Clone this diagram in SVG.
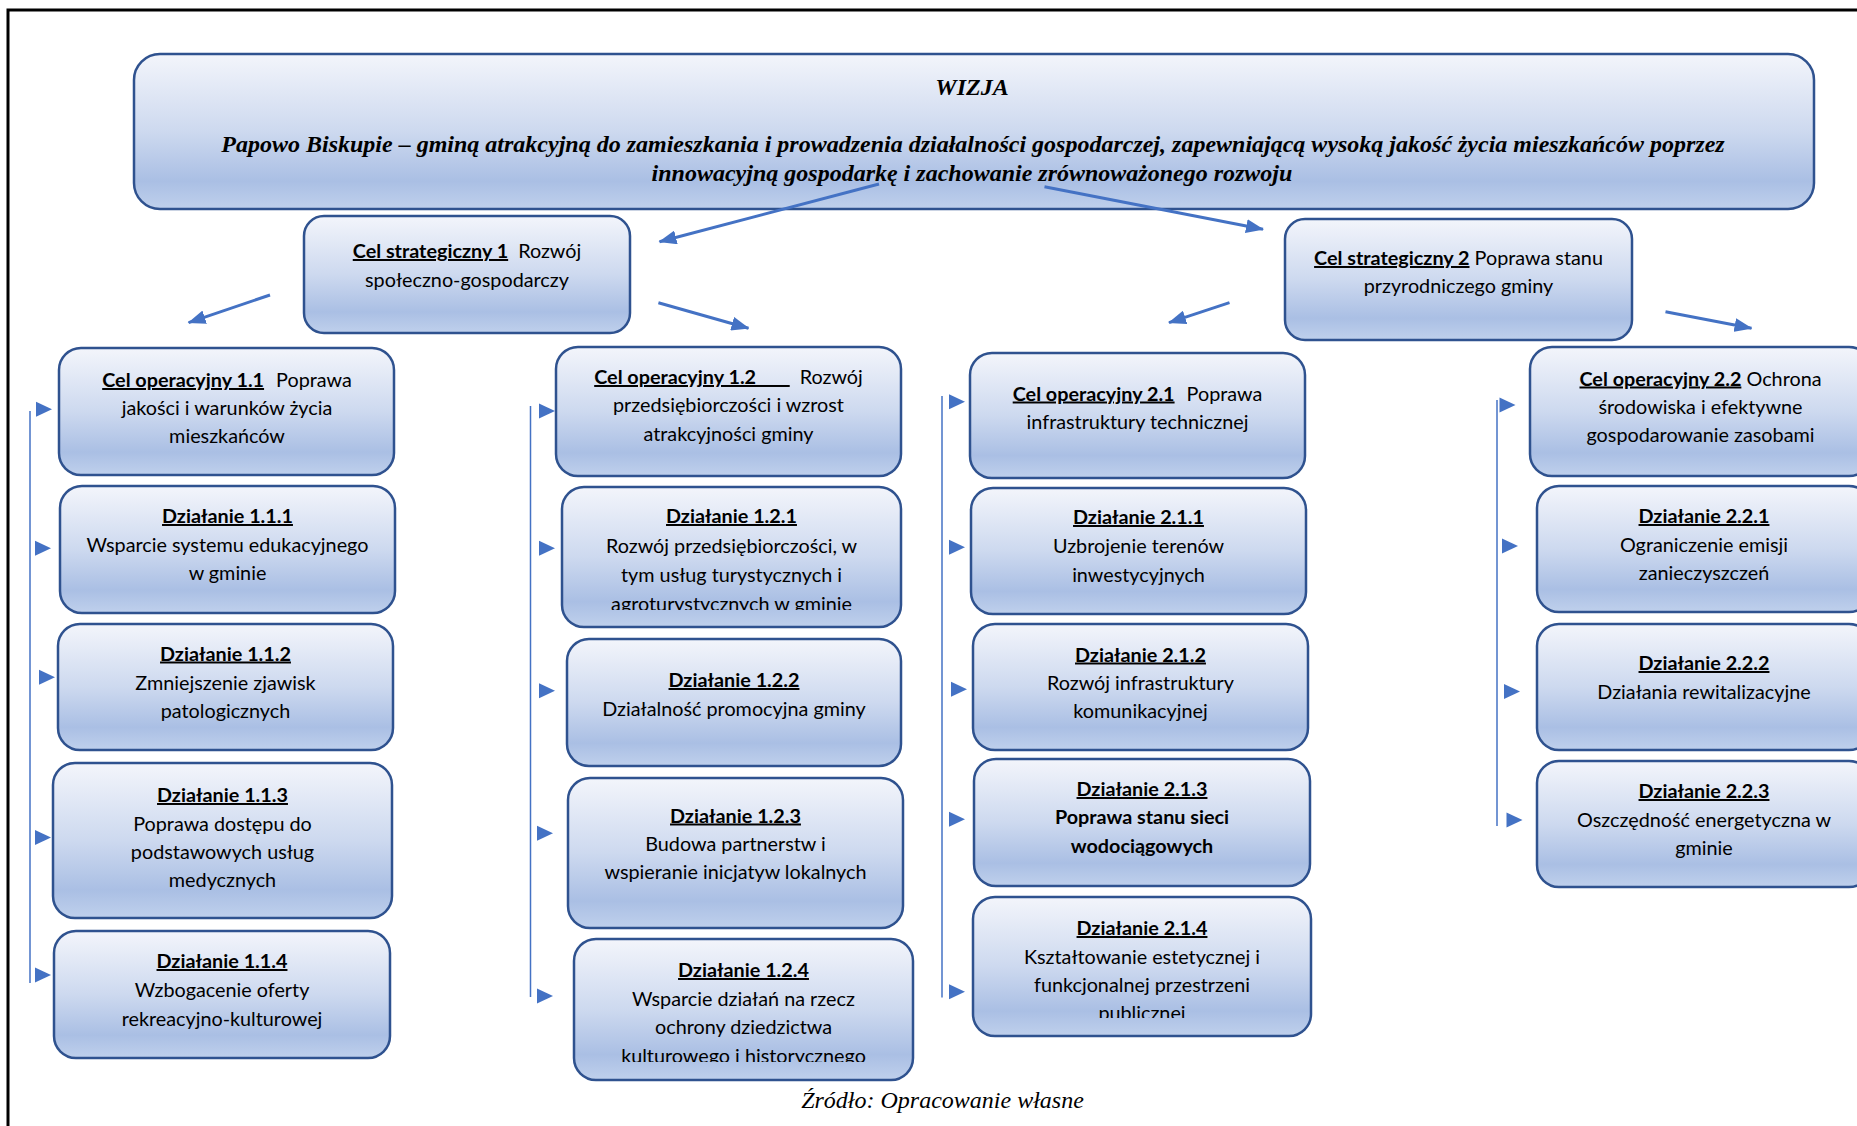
<svg xmlns="http://www.w3.org/2000/svg" width="1857" height="1126" viewBox="0 0 1857 1126">
<defs>
<linearGradient id="g" x1="0" y1="0" x2="0" y2="1">
<stop offset="0" stop-color="#f3f5fb"/>
<stop offset="0.5" stop-color="#cdd9ef"/>
<stop offset="0.82" stop-color="#aabfe4"/>
<stop offset="1" stop-color="#bfd0ec"/>
</linearGradient>
<marker id="ah" viewBox="0 0 18 14" markerWidth="18" markerHeight="14" refX="17" refY="7" orient="auto" markerUnits="userSpaceOnUse">
<path d="M0,0 L18,7 L0,14 Z" fill="#4472c4"/>
</marker>
<path id="tri" d="M0,-7.5 L16,0 L0,7.5 Z" fill="#4472c4"/>
<clipPath id="c121"><rect x="562" y="487" width="339" height="123"/></clipPath>
<clipPath id="c124"><rect x="574" y="939" width="339" height="123"/></clipPath>
<clipPath id="c214"><rect x="973" y="897" width="338" height="121"/></clipPath>
</defs>
<style>
.box{fill:url(#g);stroke:#2f528f;stroke-width:2.5}
.t{font-family:Lato,"Liberation Sans",sans-serif;font-size:19.8px;fill:#000;text-anchor:middle}
.b{font-weight:bold}
.u{text-decoration:underline}
.w{font-family:"Liberation Serif",serif;font-weight:bold;font-style:italic;font-size:24px;fill:#000;text-anchor:middle}
.cap{font-family:"Liberation Serif",serif;font-style:italic;font-size:24px;fill:#000;text-anchor:middle}
.con{stroke:#4472c4;stroke-width:3;fill:none}
.vl{stroke:#4472c4;stroke-width:1.5;fill:none}
</style>
<rect width="1857" height="1126" fill="#fff"/>
<path d="M8,1126 L8,10 L1857,10" stroke="#000" stroke-width="3" fill="none"/>

<g id="wizja">
<rect class="box" x="134" y="54" width="1680" height="155" rx="26" stroke-width="3"/>
<text class="w" x="972" y="95">WIZJA</text>
<text class="w" x="973" y="152">Papowo Biskupie – gminą atrakcyjną do zamieszkania i prowadzenia działalności gospodarczej, zapewniającą wysoką jakość życia mieszkańców poprzez</text>
<text class="w" x="972" y="181">innowacyjną gospodarkę i zachowanie zrównoważonego rozwoju</text>
</g>

<g id="cel-strategiczny-1">
<rect class="box" x="304" y="216" width="326" height="117" rx="20"/>
<text class="t" x="467" y="258"><tspan class="b u">Cel strategiczny 1</tspan><tspan dx="10">Rozwój</tspan></text>
<text class="t" x="467" y="287">społeczno-gospodarczy</text>
</g>

<g id="cel-strategiczny-2">
<rect class="box" x="1285" y="219" width="347" height="121" rx="20"/>
<text class="t" x="1458.5" y="265"><tspan class="b u">Cel strategiczny 2</tspan> Poprawa stanu</text>
<text class="t" x="1458.5" y="293">przyrodniczego gminy</text>
</g>

<g id="cel-operacyjny-1-1">
<rect class="box" x="59" y="348" width="335" height="127" rx="22"/>
<text class="t" x="227" y="387"><tspan class="b u">Cel operacyjny 1.1</tspan><tspan dx="12">Poprawa</tspan></text>
<text class="t" x="227" y="414.5">jakości i warunków życia</text>
<text class="t" x="227" y="443">mieszkańców</text>
</g>
<g id="dzialanie-1-1-1">
<rect class="box" x="60" y="486" width="335" height="127" rx="22"/>
<text class="t b u" x="227.5" y="523">Działanie 1.1.1</text>
<text class="t" x="227.5" y="551.5">Wsparcie systemu edukacyjnego</text>
<text class="t" x="227.5" y="580">w gminie</text>
</g>
<g id="dzialanie-1-1-2">
<rect class="box" x="58" y="624" width="335" height="126" rx="22"/>
<text class="t b u" x="225.5" y="660.5">Działanie 1.1.2</text>
<text class="t" x="225.5" y="689.5">Zmniejszenie zjawisk</text>
<text class="t" x="225.5" y="718">patologicznych</text>
</g>
<g id="dzialanie-1-1-3">
<rect class="box" x="53" y="763" width="339" height="155" rx="22"/>
<text class="t b u" x="222.5" y="802">Działanie 1.1.3</text>
<text class="t" x="222.5" y="831">Poprawa dostępu do</text>
<text class="t" x="222.5" y="859">podstawowych usług</text>
<text class="t" x="222.5" y="887">medycznych</text>
</g>
<g id="dzialanie-1-1-4">
<rect class="box" x="54" y="931" width="336" height="127" rx="22"/>
<text class="t b u" x="222" y="968">Działanie 1.1.4</text>
<text class="t" x="222" y="997">Wzbogacenie oferty</text>
<text class="t" x="222" y="1026">rekreacyjno-kulturowej</text>
</g>

<g id="cel-operacyjny-1-2">
<rect class="box" x="556" y="347" width="345" height="129" rx="22"/>
<text class="t" x="728.5" y="384"><tspan class="b u">Cel operacyjny 1.2&#160;&#160;&#160;&#160;&#160;&#160;&#160;</tspan><tspan dx="10">Rozwój</tspan></text>
<text class="t" x="728.5" y="411.5">przedsiębiorczości i wzrost</text>
<text class="t" x="728.5" y="441">atrakcyjności gminy</text>
</g>
<g id="dzialanie-1-2-1">
<rect class="box" x="562" y="487" width="339" height="140" rx="22"/>
<g clip-path="url(#c121)">
<text class="t b u" x="731.5" y="523">Działanie 1.2.1</text>
<text class="t" x="731.5" y="552.5">Rozwój przedsiębiorczości, w</text>
<text class="t" x="731.5" y="581.5">tym usług turystycznych i</text>
<text class="t" x="731.5" y="610.5">agroturystycznych w gminie</text>
</g>
</g>
<g id="dzialanie-1-2-2">
<rect class="box" x="567" y="639" width="334" height="127" rx="22"/>
<text class="t b u" x="734" y="687">Działanie 1.2.2</text>
<text class="t" x="734" y="715.5">Działalność promocyjna gminy</text>
</g>
<g id="dzialanie-1-2-3">
<rect class="box" x="568" y="778" width="335" height="150" rx="22"/>
<text class="t b u" x="735.5" y="822.5">Działanie 1.2.3</text>
<text class="t" x="735.5" y="850.5">Budowa partnerstw i</text>
<text class="t" x="735.5" y="878.5">wspieranie inicjatyw lokalnych</text>
</g>
<g id="dzialanie-1-2-4">
<rect class="box" x="574" y="939" width="339" height="141" rx="22"/>
<g clip-path="url(#c124)">
<text class="t b u" x="743.5" y="977">Działanie 1.2.4</text>
<text class="t" x="743.5" y="1005.5">Wsparcie działań na rzecz</text>
<text class="t" x="743.5" y="1034">ochrony dziedzictwa</text>
<text class="t" x="743.5" y="1062.5">kulturowego i historycznego</text>
</g>
</g>

<g id="cel-operacyjny-2-1">
<rect class="box" x="970" y="353" width="335" height="125" rx="22"/>
<text class="t" x="1137.5" y="400.5"><tspan class="b u">Cel operacyjny 2.1</tspan><tspan dx="12">Poprawa</tspan></text>
<text class="t" x="1137.5" y="428.5">infrastruktury technicznej</text>
</g>
<g id="dzialanie-2-1-1">
<rect class="box" x="971" y="488" width="335" height="126" rx="22"/>
<text class="t b u" x="1138.5" y="524">Działanie 2.1.1</text>
<text class="t" x="1138.5" y="552.5">Uzbrojenie terenów</text>
<text class="t" x="1138.5" y="581.5">inwestycyjnych</text>
</g>
<g id="dzialanie-2-1-2">
<rect class="box" x="973" y="624" width="335" height="126" rx="22"/>
<text class="t b u" x="1140.5" y="661.5">Działanie 2.1.2</text>
<text class="t" x="1140.5" y="689.5">Rozwój infrastruktury</text>
<text class="t" x="1140.5" y="717.5">komunikacyjnej</text>
</g>
<g id="dzialanie-2-1-3">
<rect class="box" x="974" y="759" width="336" height="127" rx="22"/>
<text class="t b u" x="1142" y="796">Działanie 2.1.3</text>
<text class="t b" x="1142" y="824">Poprawa stanu sieci</text>
<text class="t b" x="1142" y="852.5">wodociągowych</text>
</g>
<g id="dzialanie-2-1-4">
<rect class="box" x="973" y="897" width="338" height="139" rx="22"/>
<g clip-path="url(#c214)">
<text class="t b u" x="1142" y="935">Działanie 2.1.4</text>
<text class="t" x="1142" y="963.5">Kształtowanie estetycznej i</text>
<text class="t" x="1142" y="991.5">funkcjonalnej przestrzeni</text>
<text class="t" x="1142" y="1020">publicznej</text>
</g>
</g>

<g id="cel-operacyjny-2-2">
<rect class="box" x="1530" y="347" width="341" height="129" rx="22"/>
<text class="t" x="1700.5" y="385.5"><tspan class="b u">Cel operacyjny 2.2</tspan> Ochrona</text>
<text class="t" x="1700.5" y="414">środowiska i efektywne</text>
<text class="t" x="1700.5" y="441.5">gospodarowanie zasobami</text>
</g>
<g id="dzialanie-2-2-1">
<rect class="box" x="1537" y="486" width="334" height="126" rx="22"/>
<text class="t b u" x="1704" y="523">Działanie 2.2.1</text>
<text class="t" x="1704" y="552">Ograniczenie emisji</text>
<text class="t" x="1704" y="580">zanieczyszczeń</text>
</g>
<g id="dzialanie-2-2-2">
<rect class="box" x="1537" y="624" width="334" height="126" rx="22"/>
<text class="t b u" x="1704" y="670">Działanie 2.2.2</text>
<text class="t" x="1704" y="698.5">Działania rewitalizacyjne</text>
</g>
<g id="dzialanie-2-2-3">
<rect class="box" x="1537" y="761" width="334" height="126" rx="22"/>
<text class="t b u" x="1704" y="798">Działanie 2.2.3</text>
<text class="t" x="1704" y="827">Oszczędność energetyczna w</text>
<text class="t" x="1704" y="855">gminie</text>
</g>

<g id="connectors">
<line class="con" x1="879" y1="184" x2="659.5" y2="241.7" marker-end="url(#ah)"/>
<line class="con" x1="1044.5" y1="186.7" x2="1263" y2="229.3" marker-end="url(#ah)"/>
<line class="con" x1="270" y1="295" x2="188.6" y2="322.7" marker-end="url(#ah)"/>
<line class="con" x1="658.4" y1="302.7" x2="748.5" y2="328.3" marker-end="url(#ah)"/>
<line class="con" x1="1229.5" y1="302.7" x2="1169" y2="322.7" marker-end="url(#ah)"/>
<line class="con" x1="1665.5" y1="311.7" x2="1751.5" y2="328.3" marker-end="url(#ah)"/>
<line class="vl" x1="30" y1="411" x2="30" y2="983"/>
<line class="vl" x1="530.5" y1="406" x2="530.5" y2="997"/>
<line class="vl" x1="942" y1="396" x2="942" y2="997.5"/>
<line class="vl" x1="1497" y1="400" x2="1497" y2="826"/>
<use href="#tri" x="36" y="409.3"/>
<use href="#tri" x="35" y="548.3"/>
<use href="#tri" x="39" y="677.3"/>
<use href="#tri" x="35" y="837.5"/>
<use href="#tri" x="35" y="975"/>
<use href="#tri" x="539" y="411"/>
<use href="#tri" x="539" y="548.3"/>
<use href="#tri" x="539" y="690.7"/>
<use href="#tri" x="537" y="833.3"/>
<use href="#tri" x="537" y="996"/>
<use href="#tri" x="949" y="401.7"/>
<use href="#tri" x="949" y="547.3"/>
<use href="#tri" x="951" y="689.3"/>
<use href="#tri" x="949" y="819.3"/>
<use href="#tri" x="949" y="991.7"/>
<use href="#tri" x="1499.5" y="405"/>
<use href="#tri" x="1502" y="546"/>
<use href="#tri" x="1504" y="691.5"/>
<use href="#tri" x="1506.5" y="820"/>
</g>

<text class="cap" x="942.5" y="1108">Źródło: Opracowanie własne</text>
</svg>
